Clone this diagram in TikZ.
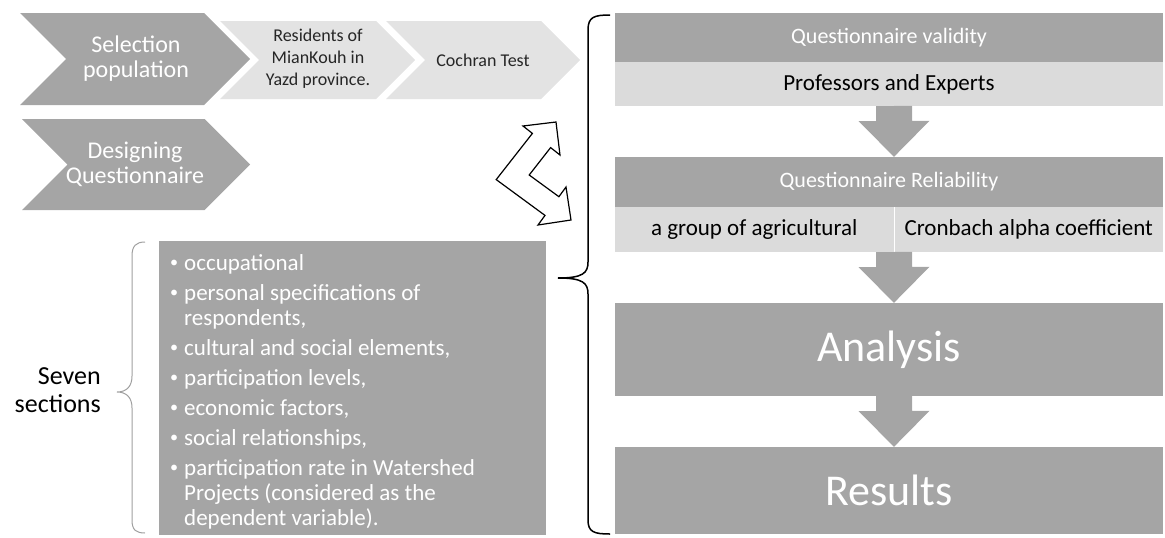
\documentclass[tikz,border=0pt]{standalone}
\usepackage{fontspec}
\setmainfont{Carlito}
\usetikzlibrary{calc}
\definecolor{darkfill}{HTML}{A5A5A5}
\definecolor{palefill}{HTML}{DBDBDB}
\definecolor{chevfill}{HTML}{E3E3E3}
% x, top, width, height, point depth, colour
\newcommand\chevron[6]{%
  \fill[#6] (#1,#2) -- ({#1+#3-#5},#2) -- ({#1+#3},{#2+#4/2}) -- ({#1+#3-#5},{#2+#4})
    -- (#1,{#2+#4}) -- ({#1+#5},{#2+#4/2}) -- cycle;}
% block arrow from the bottom of one box to the top of the next
\newcommand\flowarrow[2]{%
  \fill[darkfill] ($(#1.south -| mid)+(-18,0)$) -- ++(0,15) -- ++(-17.5,0)
    -- (#2.north -| mid) -- ++(35.5,-36) -- ++(-17.5,0) -- ++(0,-15) -- cycle;}
\newcommand\itembul{\makebox[11pt][l]{\hspace*{-3pt}\raisebox{3pt}{\scalebox{0.7}{\textbullet}}}}
\begin{document}
\begin{tikzpicture}[x=1pt,y=-1pt,
    chevtext/.style={text=white, align=center, font=\fontsize{24}{25}\selectfont},
    paletext/.style={text=black!85, align=center, font=\fontsize{18}{22}\selectfont},
    darkbar/.style={fill=darkfill, text=white, minimum width=548, inner sep=0,
      font=\fontsize{22}{26}\selectfont},
    palebar/.style={fill=palefill, text=black, minimum width=548, inner sep=0,
      font=\fontsize{23}{27}\selectfont},
    bigbar/.style={fill=darkfill, text=white, minimum width=548, inner sep=0,
      font=\fontsize{44}{50}\selectfont},
    listtext/.style={text=white, align=left, inner sep=0, font=\fontsize{23}{25}\selectfont},
    sectext/.style={align=right, inner sep=0, font=\fontsize{26}{28}\selectfont}]
  \useasboundingbox (0,0) rectangle (1165,538);

  \chevron{20}{13}{230}{92}{46}{darkfill}
  \chevron{22}{119}{228}{91}{45.5}{darkfill}
  \chevron{220}{21}{195}{78}{39}{chevfill}
  \chevron{386}{21}{194}{78}{39}{chevfill}
  \node[chevtext] (sel) at (136,59) {Selection\\population};
  \node[chevtext] (des) at (135,164) {Designing\\Questionnaire};
  \node[paletext] (resid) at (318,59) {Residents of\\MianKouh in\\Yazd province.};
  \node[paletext] (coch) at (483,60) {Cochran Test};

  \node[darkbar, minimum height=49] (valid) at (889,37.5) {Questionnaire validity};
  \node[palebar, minimum height=44] (expert) at (889,84) {Professors and Experts};
  \node[darkbar, minimum height=50] (reliab) at (889,182) {Questionnaire Reliability};
  \node[palebar, minimum width=278.5, minimum height=45] (grp) at (754.25,229.5) {a group of agricultural};
  \node[palebar, minimum width=268.5, minimum height=45] (cron) at (1028.75,229.5) {Cronbach alpha coefficient};
  \node[bigbar, minimum height=93] (anal) at (889,349.5) {Analysis};
  \node[bigbar, minimum height=87] (res) at (889,490.5) {Results};
  \coordinate (mid) at (894,0);
  \flowarrow{expert}{reliab}
  \flowarrow{grp}{anal}
  \flowarrow{anal}{res}

  \node[fill=darkfill, minimum width=387, minimum height=294, inner sep=0, anchor=north west] (sect) at (159,241) {};
  \node[listtext, anchor=north west] (items) at (173,254) {%
    \itembul occupational\\[5pt]
    \itembul personal specifications of\\
    \hspace*{11pt}respondents,\\[5pt]
    \itembul cultural and social elements,\\[5pt]
    \itembul participation levels,\\[5pt]
    \itembul economic factors,\\[5pt]
    \itembul social relationships,\\[5pt]
    \itembul participation rate in Watershed\\
    \hspace*{11pt}Projects (considered as the\\
    \hspace*{11pt}dependent variable).};
  \node[sectext, anchor=east] (seven) at (101,390) {Seven\\sections};

  \draw[gray!75, line width=1] (145,242) .. controls (136,242) and (132,246) .. (132,256)
    -- (132,376) .. controls (132,386) and (127,392) .. (117,392)
    .. controls (127,392) and (132,398) .. (132,408)
    -- (132,520) .. controls (132,530) and (136,533) .. (145,533);
  \draw[line width=1.5] (610,15) .. controls (594,15) and (588,17) .. (588,30)
    -- (588,262) .. controls (588,273) and (583,278) .. (558,278)
    .. controls (583,278) and (588,283) .. (588,294)
    -- (588,520) .. controls (588,532) and (594,534) .. (610,534);

  \draw[fill=white, line width=1.2] (556,122) -- (523,126) -- (532.4,133.4) -- (496.2,179.6)
    -- (545,215.4) -- (538,225) -- (571,220) -- (566,187) -- (558.9,196.7) -- (529.2,175)
    -- (550.6,147.6) -- (560,155) -- cycle;
\end{tikzpicture}
\end{document}
